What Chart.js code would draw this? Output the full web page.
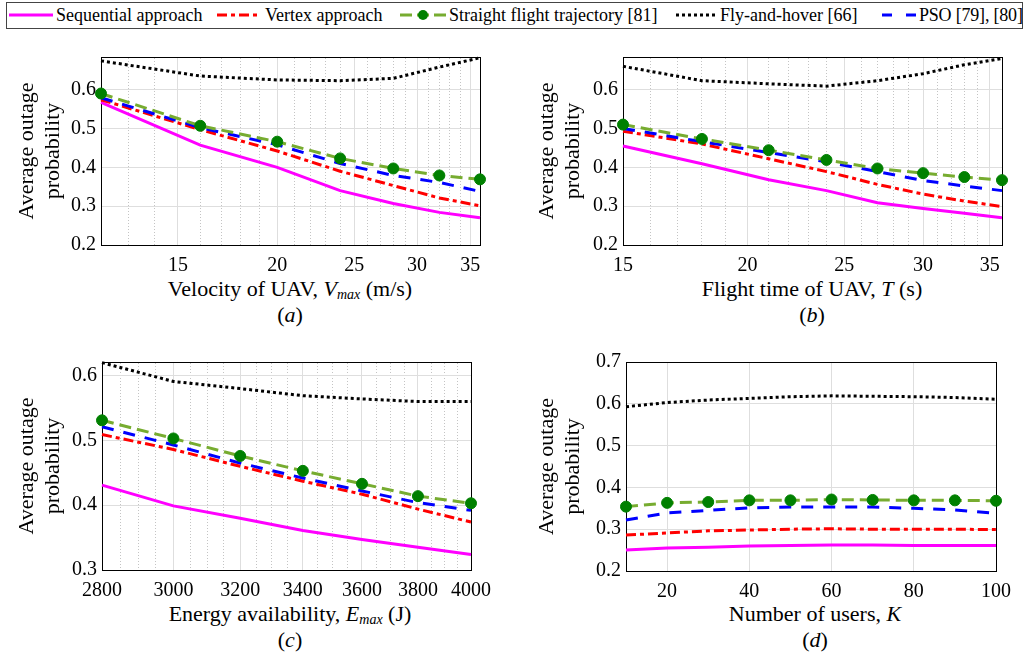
<!DOCTYPE html>
<html>
<head>
<meta charset="utf-8">
<script src="https://cdn.jsdelivr.net/npm/chart.js@4.4.1/dist/chart.umd.min.js"></script>
<style>
  body { margin: 0; width: 1027px; height: 657px; background: #fff; position: relative; overflow: hidden; font-family: "Liberation Serif", serif; color: #000; }
  canvas { position: absolute; }
  .lbl { position: absolute; font-size: 22px; white-space: nowrap; transform: translateX(-50%); line-height: 24px; }
  .lbl sub { font-size: 14px; vertical-align: -3px; }
  #legend { position: absolute; left: 6px; top: 2px; width: 1015px; height: 25px; border: 1px solid #444; }
  .smp { position: absolute; top: 7px; }
  .txt { position: absolute; top: 0; line-height: 25px; font-size: 18px; white-space: nowrap; }
</style>
</head>
<body>

<div id="legend">
  <svg class="smp" style="left:2px" width="44" height="10"><line x1="0" y1="5" x2="44" y2="5" stroke="#ff00ff" stroke-width="3"/></svg>
  <span class="txt" style="left:49px">Sequential approach</span>
  <svg class="smp" style="left:210px" width="44" height="10"><line x1="0" y1="5" x2="44" y2="5" stroke="#ff0000" stroke-width="3" stroke-dasharray="10 4 4 4"/></svg>
  <span class="txt" style="left:258px">Vertex approach</span>
  <svg class="smp" style="left:393px;top:6px" width="46" height="12"><line x1="0" y1="6" x2="46" y2="6" stroke="#77ac30" stroke-width="3" stroke-dasharray="12 5"/><circle cx="23" cy="6" r="5" fill="#008000"/></svg>
  <span class="txt" style="left:442px">Straight flight trajectory [81]</span>
  <svg class="smp" style="left:669px" width="42" height="10"><line x1="0" y1="5" x2="42" y2="5" stroke="#000" stroke-width="3" stroke-dasharray="3 3"/></svg>
  <span class="txt" style="left:713px">Fly-and-hover [66]</span>
  <svg class="smp" style="left:875px" width="34" height="10"><line x1="0" y1="5" x2="34" y2="5" stroke="#0000ff" stroke-width="3" stroke-dasharray="10 14"/></svg>
  <span class="txt" style="left:912px;letter-spacing:-0.2px">PSO [79], [80]</span>
</div>

<canvas id="chartA" width="500" height="235" style="left:0px;top:40px"></canvas>
<canvas id="chartB" width="500" height="235" style="left:520px;top:40px"></canvas>
<canvas id="chartC" width="500" height="255" style="left:0px;top:345px"></canvas>
<canvas id="chartD" width="500" height="256" style="left:520px;top:345px"></canvas>

<div class="lbl" style="left:290px;top:277px">Velocity of UAV, <i>V</i><sub><i>max</i></sub> (m/s)</div>
<div class="lbl" style="left:290px;top:303px">(<i>a</i>)</div>
<div class="lbl" style="left:812px;top:277px">Flight time of UAV, <i>T</i> (s)</div>
<div class="lbl" style="left:812px;top:303px">(<i>b</i>)</div>
<div class="lbl" style="left:290px;top:602px">Energy availability, <i>E</i><sub><i>max</i></sub> (J)</div>
<div class="lbl" style="left:290px;top:628px">(<i>c</i>)</div>
<div class="lbl" style="left:815px;top:602px">Number of users, <i>K</i></div>
<div class="lbl" style="left:815px;top:628px">(<i>d</i>)</div>

<script>
// (a) velocity of UAV
const xVel = [12, 16, 20, 24, 28, 32, 36];
const seqVel = [0.567, 0.457, 0.400, 0.340, 0.307, 0.284, 0.270];
const vtxVel = [0.574, 0.497, 0.442, 0.390, 0.353, 0.321, 0.301];
const sftVel = [0.590, 0.507, 0.466, 0.423, 0.397, 0.379, 0.369];
const fahVel = [0.674, 0.635, 0.625, 0.623, 0.629, 0.658, 0.682];
const psoVel = [0.579, 0.502, 0.458, 0.410, 0.379, 0.361, 0.338];
const velMajor = [15, 20, 25, 30, 35];
const velMinor = [12, 13, 14, 16, 17, 18, 19, 21, 22, 23, 24, 26, 27, 28, 29, 31, 32, 33, 34, 36];

// (b) flight time
const xTime = [15, 18, 21, 24, 27, 30, 33, 36];
const seqTime = [0.455, 0.409, 0.368, 0.340, 0.309, 0.294, 0.282, 0.270];
const vtxTime = [0.493, 0.460, 0.422, 0.389, 0.356, 0.331, 0.313, 0.299];
const sftTime = [0.510, 0.473, 0.444, 0.419, 0.397, 0.385, 0.375, 0.367];
const fahTime = [0.660, 0.623, 0.615, 0.609, 0.623, 0.641, 0.664, 0.680];
const psoTime = [0.500, 0.466, 0.438, 0.414, 0.389, 0.366, 0.352, 0.340];
const timeMajor = [15, 20, 25, 30, 35];
const timeMinor = [16, 17, 18, 19, 21, 22, 23, 24, 26, 27, 28, 29, 31, 32, 33, 34, 36];

// (c) energy availability
const xEnergy = [2800, 3000, 3200, 3400, 3600, 3800, 4000];
const seqEnergy = [0.431, 0.399, 0.380, 0.361, 0.347, 0.335, 0.324];
const vtxEnergy = [0.509, 0.486, 0.460, 0.437, 0.417, 0.394, 0.374];
const sftEnergy = [0.531, 0.503, 0.476, 0.453, 0.433, 0.414, 0.403];
const fahEnergy = [0.620, 0.591, 0.580, 0.569, 0.564, 0.560, 0.560];
const psoEnergy = [0.521, 0.493, 0.465, 0.442, 0.422, 0.404, 0.392];
const energyMajor = [2800, 3000, 3200, 3400, 3600, 3800, 4000];
const energyMinor = [2850, 2900, 2950, 3050, 3100, 3150, 3250, 3300, 3350, 3450, 3500, 3550,
                     3650, 3700, 3750, 3850, 3900, 3950];

// (d) number of users
const xUsers = [10, 20, 30, 40, 50, 60, 70, 80, 90, 100];
const seqUsers = [0.250, 0.255, 0.257, 0.260, 0.261, 0.262, 0.262, 0.261, 0.261, 0.261];
const vtxUsers = [0.286, 0.291, 0.296, 0.298, 0.300, 0.301, 0.300, 0.300, 0.300, 0.299];
const sftUsers = [0.354, 0.363, 0.365, 0.369, 0.369, 0.371, 0.370, 0.369, 0.369, 0.368];
const fahUsers = [0.593, 0.603, 0.609, 0.613, 0.617, 0.619, 0.618, 0.617, 0.615, 0.611];
const psoUsers = [0.322, 0.339, 0.345, 0.351, 0.353, 0.353, 0.353, 0.350, 0.346, 0.338];
const usersMajor = [20, 40, 60, 80, 100];

const yTicksAB = [0.2, 0.3, 0.4, 0.5, 0.6];
const yTicksC = [0.3, 0.4, 0.5, 0.6];
const yTicksD = [0.2, 0.3, 0.4, 0.5, 0.6, 0.7];

Chart.defaults.font.family = '"Liberation Serif", serif';
Chart.defaults.color = '#000';

function pts(xs, ys) {
    return xs.map((x, i) => ({ x: x, y: ys[i] }));
}

function makeDatasets(xs, seq, vtx, sft, fah, pso) {
    const base = { pointRadius: 0, borderWidth: 3, tension: 0, fill: false, borderCapStyle: 'butt', clip: 8 };
    return [
        { ...base, label: 'Sequential approach', data: pts(xs, seq), borderColor: '#ff00ff', order: 5 },
        { ...base, label: 'Vertex approach', data: pts(xs, vtx), borderColor: '#ff0000', borderDash: [10, 4, 4, 4], order: 4 },
        { ...base, label: 'Straight flight trajectory [81]', data: pts(xs, sft), borderColor: '#77ac30', borderDash: [12, 6],
          pointRadius: 5.5, pointBackgroundColor: '#008000', pointBorderColor: '#008000', pointBorderWidth: 1, order: 1 },
        { ...base, label: 'Fly-and-hover [66]', data: pts(xs, fah), borderColor: '#000000', borderDash: [3, 3], order: 3 },
        { ...base, label: 'PSO [79], [80]', data: pts(xs, pso), borderColor: '#0000ff', borderDash: [12, 10], order: 2 }
    ];
}

function makeChart(id, cfg) {
    const scales = {
        x: {
            type: cfg.xType, min: cfg.xMin, max: cfg.xMax,
            afterBuildTicks: s => { s.ticks = cfg.xMajor.map(v => ({ value: v })); },
            afterFit: s => { s.height = 30; },
            grid: { color: '#dedede', drawTicks: false },
            border: { color: '#000', width: 1 },
            ticks: { autoSkip: false, maxRotation: 0, padding: 9, font: { size: 20 }, callback: v => String(v) }
        },
        xTop: {
            type: cfg.xType, position: 'top', min: cfg.xMin, max: cfg.xMax,
            afterBuildTicks: s => { s.ticks = (cfg.xMinor || []).map(v => ({ value: v })); },
            afterFit: s => { s.height = 0; },
            grid: { display: !!cfg.xMinor, color: '#c4c4c4', drawTicks: false },
            border: { color: '#000', width: 1, dash: [1, 2] },
            ticks: { display: false }
        },
        y: {
            type: 'linear', min: cfg.yMin, max: cfg.yMax,
            afterBuildTicks: s => { s.ticks = cfg.yTicks.map(v => ({ value: v })); },
            afterFit: s => { s.width = cfg.left; },
            grid: { color: '#dedede', drawTicks: false },
            border: { color: '#000', width: 1 },
            ticks: { padding: 5, font: { size: 20 }, callback: v => v.toFixed(1) },
            title: {
                display: true, text: ['Average outage', 'probability'],
                font: { size: 22, lineHeight: 1.18 }, padding: { top: 14, bottom: 0 }
            }
        },
        yRight: {
            type: 'linear', position: 'right', min: cfg.yMin, max: cfg.yMax,
            afterFit: s => { s.width = 0; },
            grid: { display: false, drawTicks: false },
            border: { color: '#000', width: 1 },
            ticks: { display: false }
        }
    };
    return new Chart(document.getElementById(id).getContext('2d'), {
        type: 'line',
        data: { datasets: cfg.datasets },
        options: {
            responsive: false, animation: false,
            layout: { padding: { left: 0, top: cfg.top, right: cfg.right, bottom: 0 } },
            plugins: { legend: { display: false }, tooltip: { enabled: false } },
            scales: scales
        }
    });
}

makeChart('chartA', {
    xType: 'logarithmic', xMin: 12, xMax: 36, xMajor: velMajor, xMinor: velMinor,
    yMin: 0.2, yMax: 0.684, yTicks: yTicksAB, left: 101, top: 9, right: 20,
    datasets: makeDatasets(xVel, seqVel, vtxVel, sftVel, fahVel, psoVel)
});
makeChart('chartB', {
    xType: 'logarithmic', xMin: 15, xMax: 36, xMajor: timeMajor, xMinor: timeMinor,
    yMin: 0.2, yMax: 0.684, yTicks: yTicksAB, left: 103, top: 9, right: 18,
    datasets: makeDatasets(xTime, seqTime, vtxTime, sftTime, fahTime, psoTime)
});
makeChart('chartC', {
    xType: 'logarithmic', xMin: 2800, xMax: 4000, xMajor: energyMajor, xMinor: energyMinor,
    yMin: 0.3, yMax: 0.621, yTicks: yTicksC, left: 102, top: 14, right: 20,
    datasets: makeDatasets(xEnergy, seqEnergy, vtxEnergy, sftEnergy, fahEnergy, psoEnergy)
});
makeChart('chartD', {
    xType: 'linear', xMin: 10, xMax: 100, xMajor: usersMajor, xMinor: null,
    yMin: 0.2, yMax: 0.7, yTicks: yTicksD, left: 106, top: 14, right: 14,
    datasets: makeDatasets(xUsers, seqUsers, vtxUsers, sftUsers, fahUsers, psoUsers)
});
</script>
</body>
</html>
